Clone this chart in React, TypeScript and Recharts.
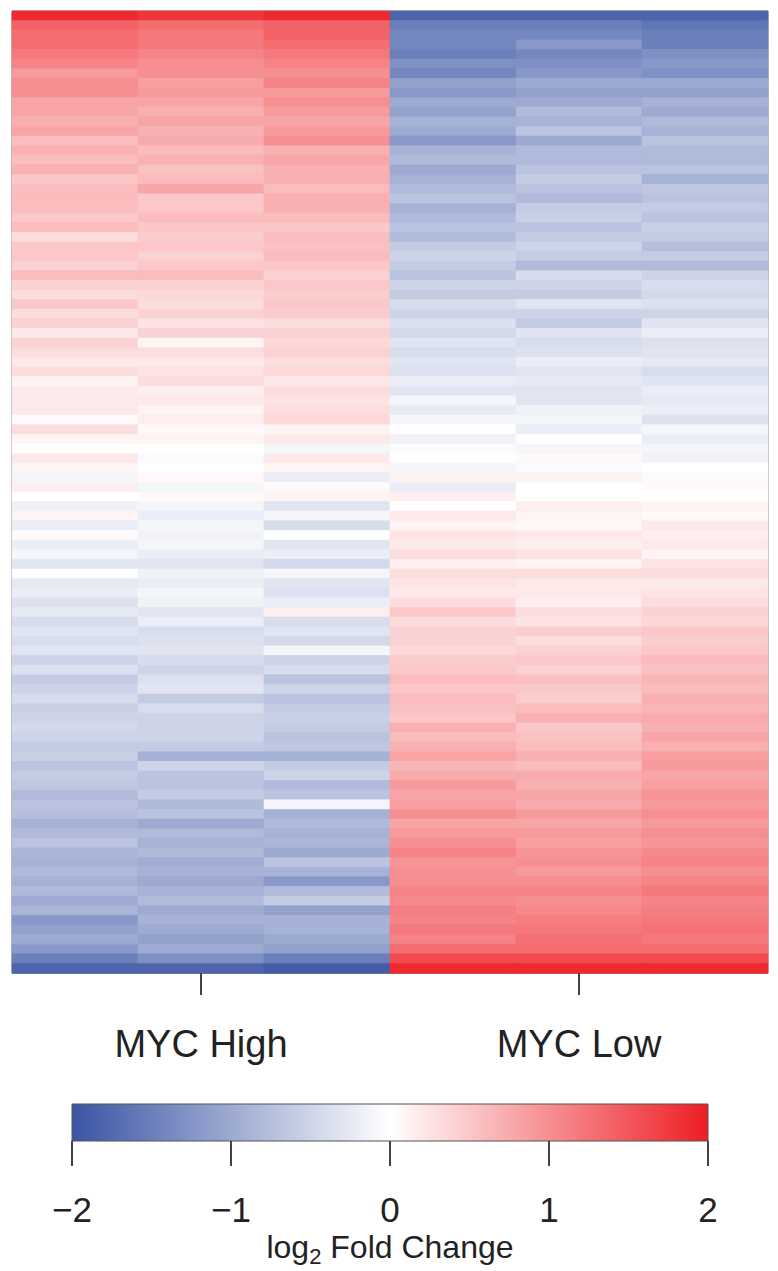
import React from "react";
import { BarChart, Bar, XAxis, YAxis, Cell, ReferenceArea, Label } from "recharts";

// log2 fold change per gene (rows sorted top → bottom), one array per sample column
const high1 = [
  1.9, 1.4, 1.3, 1.3, 1.2, 1.1, 0.9, 1.0, 1.0, 0.8,
  0.8, 0.7, 0.8, 0.6, 0.7, 0.6, 0.7, 0.5, 0.6, 0.6,
  0.6, 0.5, 0.6, 0.3, 0.5, 0.5, 0.4, 0.6, 0.4, 0.3,
  0.5, 0.3, 0.4, 0.2, 0.4, 0.3, 0.2, 0.3, 0.1, 0.2,
  0.2, 0.2, 0.05, 0.3, 0.1, 0.0, 0.2, 0.1, -0.1, 0.15,
  0.0, -0.15, 0.1, -0.2, 0.05, -0.2, -0.1, -0.3, 0.0, -0.25,
  -0.2, -0.35, -0.25, -0.4, -0.3, -0.4, -0.3, -0.5, -0.35, -0.6,
  -0.5, -0.4, -0.55, -0.5, -0.45, -0.5, -0.6, -0.55, -0.7, -0.6,
  -0.65, -0.8, -0.7, -0.75, -0.9, -0.8, -0.7, -0.85, -0.9, -0.8,
  -0.9, -0.8, -1.0, -0.85, -1.2, -1.1, -1.0, -1.2, -1.5, -1.8,
];
const high2 = [
  1.8, 1.3, 1.2, 1.2, 1.1, 1.0, 1.0, 0.85, 0.9, 0.8,
  0.7, 0.8, 0.7, 0.75, 0.6, 0.7, 0.55, 0.6, 0.8, 0.5,
  0.5, 0.6, 0.5, 0.45, 0.5, 0.4, 0.5, 0.6, 0.4, 0.35,
  0.3, 0.4, 0.25, 0.4, 0.1, 0.3, 0.2, 0.25, 0.3, 0.15,
  0.2, 0.1, 0.15, 0.05, 0.1, 0.0, -0.05, 0.0, 0.05, -0.1,
  0.05, -0.1, -0.2, -0.1, -0.15, -0.1, -0.2, -0.3, -0.15, -0.2,
  -0.1, -0.15, -0.3, -0.2, -0.4, -0.35, -0.3, -0.4, -0.5, -0.35,
  -0.3, -0.6, -0.4, -0.5, -0.5, -0.5, -0.6, -0.9, -0.5, -0.7,
  -0.7, -0.6, -0.8, -0.7, -1.0, -0.8, -0.9, -0.8, -0.95, -0.9,
  -1.0, -0.9, -0.8, -1.0, -0.9, -1.0, -1.1, -1.0, -1.3, -1.8,
];
const high3 = [
  1.9, 1.4, 1.4, 1.3, 1.2, 1.1, 1.0, 1.1, 0.9, 1.0,
  0.9, 0.8, 0.9, 1.0, 0.7, 0.8, 0.7, 0.7, 0.6, 0.7,
  0.7, 0.6, 0.5, 0.6, 0.55, 0.6, 0.5, 0.4, 0.5, 0.45,
  0.5, 0.45, 0.3, 0.4, 0.35, 0.4, 0.3, 0.35, 0.2, 0.3,
  0.25, 0.3, 0.35, 0.1, 0.2, -0.1, 0.2, 0.1, -0.2, 0.05,
  0.1, -0.3, -0.1, -0.4, 0.0, -0.3, -0.2, -0.45, -0.1, -0.3,
  -0.35, -0.2, 0.15, -0.4, -0.3, -0.45, -0.1, -0.5, -0.4, -0.7,
  -0.5, -0.7, -0.6, -0.55, -0.6, -0.7, -0.65, -0.9, -0.6, -0.5,
  -0.8, -0.7, -0.1, -0.9, -0.8, -0.9, -0.85, -1.0, -0.7, -0.9,
  -1.2, -0.8, -0.6, -1.1, -0.9, -0.9, -1.0, -1.1, -1.5, -1.9,
];
const low1 = [
  -1.8, -1.5, -1.4, -1.4, -1.5, -1.3, -1.4, -1.1, -1.2, -1.0,
  -1.1, -0.9, -1.0, -1.2, -0.9, -0.8, -1.0, -0.9, -0.8, -0.7,
  -0.9, -0.8, -0.7, -0.8, -0.6, -0.5, -0.6, -0.7, -0.5, -0.6,
  -0.4, -0.5, -0.35, -0.45, -0.3, -0.4, -0.3, -0.35, -0.2, -0.3,
  -0.1, -0.25, -0.1, 0.0, -0.15, -0.05, 0.0, -0.1, 0.1, -0.2,
  0.15, 0.0, 0.2, 0.1, 0.25, 0.2, 0.3, 0.15, 0.3, 0.25,
  0.2, 0.3, 0.5, 0.3, 0.4, 0.4, 0.35, 0.45, 0.5, 0.6,
  0.5, 0.6, 0.55, 0.5, 0.7, 0.6, 0.7, 0.8, 0.65, 0.75,
  0.9, 0.8, 0.85, 1.0, 0.8, 0.9, 1.0, 1.1, 0.95, 1.0,
  1.0, 1.1, 1.05, 1.15, 1.1, 1.2, 1.1, 1.3, 1.6, 1.9,
];
const low2 = [
  -1.8, -1.5, -1.4, -1.2, -1.4, -1.3, -1.2, -1.0, -1.1, -1.0,
  -0.8, -0.9, -0.7, -1.0, -0.8, -0.8, -0.7, -0.6, -0.7, -0.8,
  -0.6, -0.55, -0.7, -0.6, -0.5, -0.6, -0.8, -0.4, -0.5, -0.6,
  -0.3, -0.5, -0.6, -0.3, -0.4, -0.35, -0.2, -0.3, -0.25, -0.3,
  -0.3, -0.15, -0.1, -0.2, 0.0, -0.1, 0.05, -0.05, 0.1, 0.0,
  0.0, 0.15, 0.1, 0.05, 0.2, 0.15, 0.25, 0.1, 0.3, 0.2,
  0.2, 0.15, 0.3, 0.25, 0.45, 0.3, 0.4, 0.5, 0.4, 0.55,
  0.5, 0.45, 0.6, 0.7, 0.5, 0.55, 0.6, 0.7, 0.6, 0.75,
  0.7, 0.8, 0.75, 0.9, 0.8, 0.9, 0.85, 0.95, 1.0, 0.9,
  1.0, 1.1, 1.0, 1.05, 1.15, 1.2, 1.25, 1.3, 1.6, 1.9,
];
const low3 = [
  -1.8, -1.6, -1.5, -1.5, -1.3, -1.2, -1.3, -1.0, -1.1, -0.9,
  -1.0, -0.8, -0.9, -0.7, -0.8, -0.8, -0.7, -0.9, -0.65, -0.7,
  -0.6, -0.7, -0.55, -0.6, -0.75, -0.6, -0.8, -0.5, -0.4, -0.45,
  -0.35, -0.5, -0.3, -0.2, -0.35, -0.3, -0.25, -0.4, -0.3, -0.2,
  -0.25, -0.2, -0.35, -0.1, -0.2, -0.1, -0.15, 0.0, -0.05, 0.05,
  0.0, 0.1, 0.05, 0.2, 0.15, 0.2, 0.1, 0.25, 0.3, 0.2,
  0.25, 0.3, 0.4, 0.35, 0.5, 0.45, 0.5, 0.6, 0.55, 0.65,
  0.6, 0.7, 0.65, 0.75, 0.7, 0.8, 0.7, 0.85, 0.9, 0.8,
  0.85, 0.95, 0.9, 1.0, 0.9, 1.0, 0.95, 1.05, 1.1, 1.0,
  1.1, 1.2, 1.1, 1.15, 1.2, 1.25, 1.2, 1.3, 1.6, 1.9,
];

const sampleColumns = [high1, high2, high3, low1, low2, low3];
const groupLabels = ["MYC High", "MYC Low"];
const groupTickPositions = [1.5, 4.5];
const scaleTicks = [-2, -1, 0, 1, 2];
const scaleRange = [-2, 2];

const FONT = "'Liberation Sans', Arial, Helvetica, sans-serif";
const BLUE = [58, 84, 164];
const RED = [237, 30, 36];

function colorFor(v: number): string {
  const t = Math.min(1, Math.abs(v) / 2);
  const end = v < 0 ? BLUE : RED;
  const c = end.map((e) => Math.round(255 + (e - 255) * t));
  return `rgb(${c[0]},${c[1]},${c[2]})`;
}

const heatRows = high1.map((_, i) => {
  const row: Record<string, number> = { row: i };
  sampleColumns.forEach((_, j) => {
    row[`s${j}`] = 1;
  });
  return row;
});

const scaleData = [{ name: "scale", range: scaleRange }];

const GroupTick = (props: any) => {
  const { x, y, payload } = props;
  const idx = groupTickPositions.indexOf(payload.value);
  return (
    <text x={x} y={y + 62} textAnchor="middle" fontFamily={FONT} fontSize={38} fill="#222">
      {groupLabels[idx]}
    </text>
  );
};

const ScaleTick = (props: any) => {
  const { x, y, payload } = props;
  const v = payload.value as number;
  const txt = v < 0 ? `\u2212${Math.abs(v)}` : `${v}`;
  return (
    <text x={x} y={y + 56} textAnchor="middle" fontFamily={FONT} fontSize={35} fill="#222">
      {txt}
    </text>
  );
};

const ScaleLabel = (props: any) => {
  const vb = props.viewBox || {};
  const cx = vb.x + vb.width / 2;
  return (
    <text x={cx} y={vb.y + 117} textAnchor="middle" fontFamily={FONT} fontSize={32} fill="#222">
      <tspan>log</tspan>
      <tspan dy={6} fontSize={22}>2</tspan>
      <tspan dy={-6}> Fold Change</tspan>
    </text>
  );
};

export default function App() {
  return (
    <div style={{ position: "absolute", left: 0, top: 0, width: 778, height: 1271, background: "#fff" }}>
      <BarChart
        width={778}
        height={1080}
        data={heatRows}
        layout="vertical"
        margin={{ top: 11, left: 12, right: 10, bottom: 17 }}
        barCategoryGap={0}
        barGap={0}
      >
        <XAxis
          type="number"
          domain={[0, 6]}
          ticks={groupTickPositions}
          height={90}
          axisLine={false}
          tickSize={22}
          tickMargin={0}
          tickLine={{ stroke: "#444", strokeWidth: 2 }}
          tick={<GroupTick />}
          interval={0}
        />
        <YAxis type="category" dataKey="row" hide />
        {sampleColumns.map((col, j) => (
          <Bar key={j} dataKey={`s${j}`} stackId="heat" isAnimationActive={false}>
            {col.map((v, i) => (
              <Cell key={i} fill={colorFor(v)} stroke={colorFor(v)} strokeWidth={0.6} />
            ))}
          </Bar>
        ))}
        <ReferenceArea x1={0} x2={6} fill="none" stroke="#777" strokeWidth={1} ifOverflow="visible" />
      </BarChart>
      <div style={{ position: "absolute", left: 0, top: 1080 }}>
        <BarChart
          width={778}
          height={191}
          data={scaleData}
          layout="vertical"
          margin={{ top: 24, left: 72, right: 70, bottom: 0 }}
          barCategoryGap={0}
        >
          <defs>
            <linearGradient id="fcGrad" x1="0" y1="0" x2="1" y2="0">
              <stop offset="0%" stopColor={colorFor(-2)} />
              <stop offset="50%" stopColor="#ffffff" />
              <stop offset="100%" stopColor={colorFor(2)} />
            </linearGradient>
          </defs>
          <XAxis
            type="number"
            domain={scaleRange}
            ticks={scaleTicks}
            height={130}
            axisLine={false}
            tickSize={25}
            tickMargin={0}
            tickLine={{ stroke: "#444", strokeWidth: 2 }}
            tick={<ScaleTick />}
            interval={0}
          >
            <Label content={<ScaleLabel />} />
          </XAxis>
          <YAxis type="category" dataKey="name" hide />
          <Bar dataKey="range" fill="url(#fcGrad)" stroke="#555" strokeWidth={1} isAnimationActive={false} />
        </BarChart>
      </div>
    </div>
  );
}
